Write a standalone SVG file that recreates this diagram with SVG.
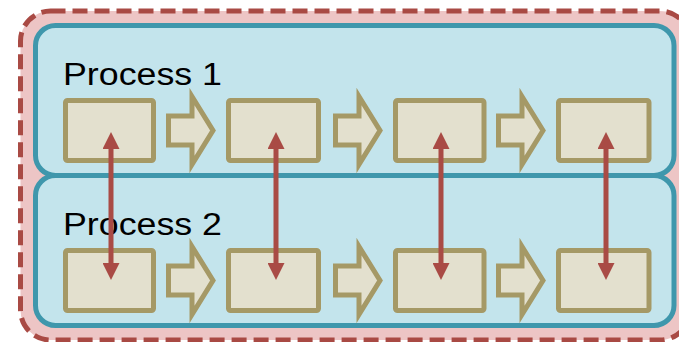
<svg xmlns="http://www.w3.org/2000/svg" width="679" height="342" viewBox="0 0 679 342">
  <style>
    .outer { fill: #edc5c5; stroke: #a94a44; stroke-width: 5; stroke-dasharray: 15 7; }
    .lane { fill: #c3e4ec; stroke: #3f97ac; stroke-width: 5; }
    .label { font-family: "Liberation Sans", Arial, sans-serif; font-size: 31px; fill: #000; }
    .box { fill: #e3e0ce; stroke: #a59966; stroke-width: 5; }
    .step { fill: #e3e0ce; stroke: #a59966; stroke-width: 5; stroke-linejoin: miter; }
    .link { stroke: #a94b45; stroke-width: 5; fill: none; marker-start: url(#head); marker-end: url(#head); }
  </style>
  <defs>
    <path id="chevron" d="M2.5,-14.5 H26 V-34 L47,0 L26,34 V14.5 H2.5 Z"/>
    <marker id="head" markerUnits="userSpaceOnUse" markerWidth="17" markerHeight="17" viewBox="0 0 17 17" refX="1" refY="8.5" orient="auto-start-reverse">
      <path d="M0,0 L17,8.5 L0,17 Z" fill="#a94b45"/>
    </marker>
  </defs>

  <!-- dashed enclosure -->
  <g id="system">
    <rect class="outer" x="20.5" y="11" width="669.5" height="329" rx="30" ry="30"/>
  </g>

  <!-- lane 1 -->
  <g id="process1">
    <rect class="lane" x="35.5" y="25.5" width="638.5" height="150" rx="20" ry="20"/>
    <text class="label" x="63" y="85" textLength="159" lengthAdjust="spacingAndGlyphs">Process 1</text>
  </g>

  <!-- lane 2 -->
  <g id="process2">
    <rect class="lane" x="35.5" y="175.5" width="638.5" height="150" rx="20" ry="20"/>
    <text class="label" x="63" y="235" textLength="159" lengthAdjust="spacingAndGlyphs">Process 2</text>
  </g>

  <!-- lane 1 steps -->
  <g id="p1-step1"><rect class="box" x="65.5" y="100.5" width="88" height="60" rx="2"/></g>
  <g id="p1-step2"><rect class="box" x="228.5" y="100.5" width="90" height="60" rx="2"/></g>
  <g id="p1-step3"><rect class="box" x="395.5" y="100.5" width="88.5" height="60" rx="2"/></g>
  <g id="p1-step4"><rect class="box" x="558.5" y="100.5" width="90.5" height="60" rx="2"/></g>

  <!-- lane 2 steps -->
  <g id="p2-step1"><rect class="box" x="65.5" y="250.5" width="88" height="60" rx="2"/></g>
  <g id="p2-step2"><rect class="box" x="228.5" y="250.5" width="90" height="60" rx="2"/></g>
  <g id="p2-step3"><rect class="box" x="395.5" y="250.5" width="88.5" height="60" rx="2"/></g>
  <g id="p2-step4"><rect class="box" x="558.5" y="250.5" width="90.5" height="60" rx="2"/></g>

  <!-- block arrows between steps -->
  <g id="flow-arrows">
    <use href="#chevron" class="step" transform="translate(166,130.5)"/>
    <use href="#chevron" class="step" transform="translate(333,130.5)"/>
    <use href="#chevron" class="step" transform="translate(496,130.5)"/>
    <use href="#chevron" class="step" transform="translate(166,280.5)"/>
    <use href="#chevron" class="step" transform="translate(333,280.5)"/>
    <use href="#chevron" class="step" transform="translate(496,280.5)"/>
  </g>

  <!-- links between matching steps -->
  <g id="connectors">
    <line class="link" x1="111" y1="148" x2="111" y2="264"/>
    <line class="link" x1="276" y1="148" x2="276" y2="264"/>
    <line class="link" x1="441" y1="148" x2="441" y2="264"/>
    <line class="link" x1="606" y1="148" x2="606" y2="264"/>
  </g>
</svg>
